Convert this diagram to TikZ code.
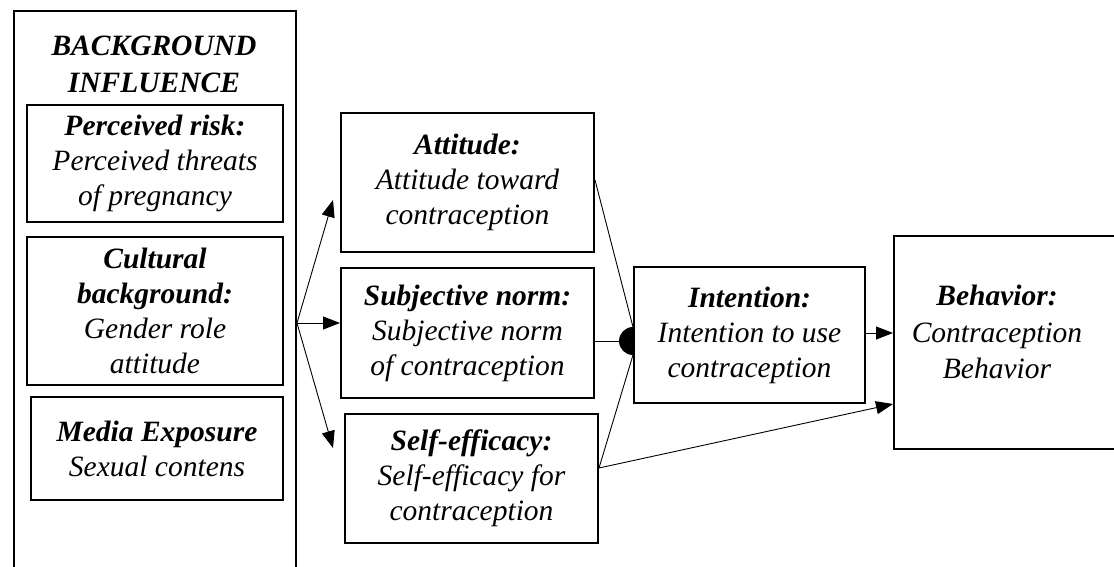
\documentclass[tikz,border=0pt]{standalone}
\usepackage{fontspec}
\setmainfont{Liberation Serif}
\usetikzlibrary{arrows.meta}
\begin{document}
\begin{tikzpicture}[x=1pt,y=-1pt,
  box/.style={draw,line width=2pt,inner sep=0pt,align=center,
    font=\fontsize{29.5}{35}\selectfont\itshape},
  conn/.style={line width=0.9pt},
  arr/.style={conn,-{Triangle[length=17pt,width=13pt]}}]
\useasboundingbox (0,0) rectangle (1114,567);
% background outer box (runs past the bottom edge)
\node[draw,line width=2pt,inner sep=0pt,minimum width=282pt,minimum height=600pt,anchor=north west] (bg) at (13,10) {};
\node[font=\fontsize{29.5}{37}\selectfont\bfseries\itshape,align=center] (title) at (154,64) {BACKGROUND\\INFLUENCE};
\node[box,minimum width=256pt,minimum height=117pt] (risk) at (155,163.5) {\textbf{Perceived risk:}\\Perceived threats\\of pregnancy};
\node[box,minimum width=256pt,minimum height=148pt] (cult) at (155,311) {\textbf{Cultural}\\\textbf{background:}\\Gender role\\attitude};
\node[box,minimum width=252pt,minimum height=103pt] (media) at (157,448.5) {\textbf{Media Exposure}\\Sexual contens};
\node[box,minimum width=253pt,minimum height=139pt] (att) at (467.5,182.5) {\textbf{Attitude:}\\Attitude toward\\contraception};
\node[box,minimum width=253pt,minimum height=130pt] (subj) at (467.5,333) {\textbf{Subjective norm:}\\Subjective norm\\of contraception};
\node[box,minimum width=253pt,minimum height=129pt] (self) at (471.5,478.5) {\textbf{Self-efficacy:}\\Self-efficacy for\\contraception};
\node[box,minimum width=231pt,minimum height=136pt] (int) at (749.5,335) {\textbf{Intention:}\\Intention to use\\contraception};
\node[draw,line width=2pt,inner sep=0pt,minimum width=240pt,minimum height=213pt,anchor=north west] (behbox) at (893,235) {};
\node[font=\fontsize{29.5}{36.5}\selectfont\itshape,align=center] (beh) at (997,332) {\textbf{Behavior:}\\Contraception\\Behavior};
% fan-out from background box
\coordinate (src) at (bg.east |- 0,323);
\coordinate (ta) at (333,200);
\coordinate (ts) at (333,448);
\draw[arr] (src) -- (ta);
\draw[arr] (src) -- (subj.west |- src);
\draw[arr] (src) -- (ts);
% junction half disc
\coordinate (jt) at (int.west |- 0,327);
\coordinate (jb) at (int.west |- 0,355);
\fill (int.west |- 0,327) arc[start angle=90,end angle=270,radius=14pt] -- cycle;
\node[inner sep=0pt,minimum size=0pt] (junc) at (621,341) {};
\draw[conn] (att.east |- 0,180) -- (jt);
\draw[conn] (subj.east |- 0,341) -- (junc);
\draw[conn] (self.east |- 0,468) -- (jb);
% to behavior
\draw[arr] (int.east |- 0,333) -- (behbox.west |- 0,333);
\draw[arr] (self.east |- 0,468) -- (behbox.west |- 0,404);
\end{tikzpicture}
\end{document}
